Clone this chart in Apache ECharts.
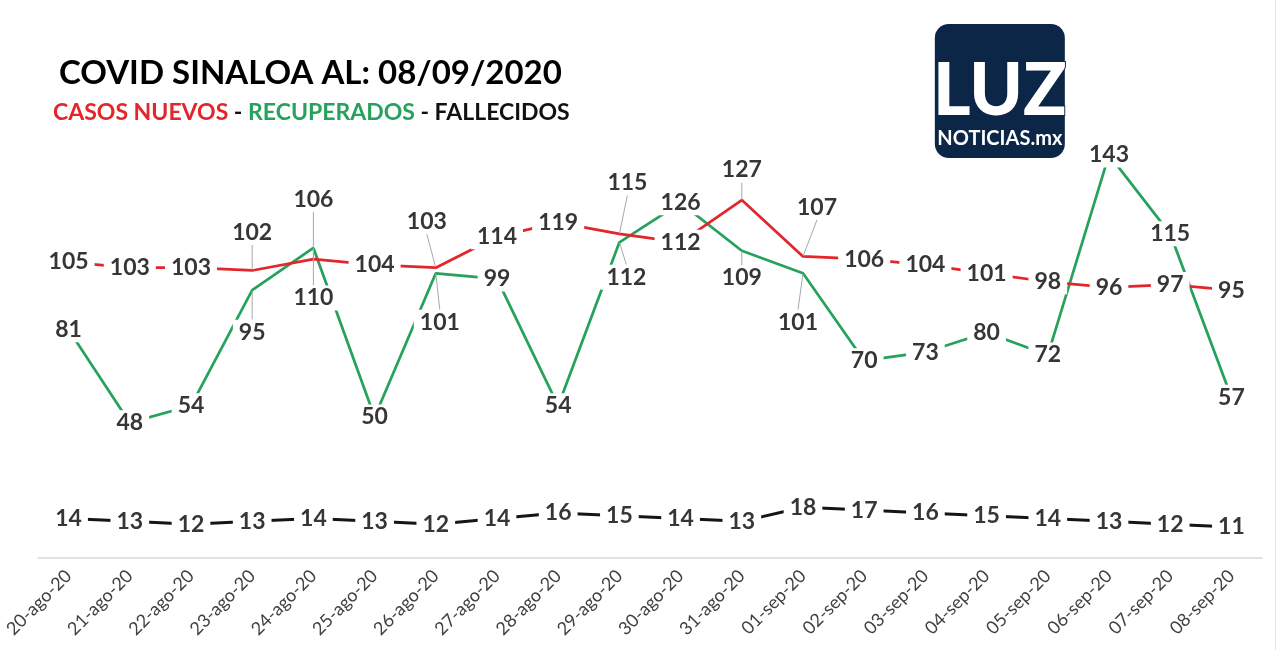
<!DOCTYPE html>
<html>
<head>
<meta charset="utf-8">
<title>COVID Sinaloa</title>
<script src="https://cdn.jsdelivr.net/npm/echarts@6/dist/echarts.min.js"></script>
<style>
    html, body { margin: 0; padding: 0; background: #fff; }
    #chart { width: 1280px; height: 650px; }
</style>
</head>
<body>
<div id="chart"></div>
<script>
const dates = [
    '20-ago-20', '21-ago-20', '22-ago-20', '23-ago-20', '24-ago-20',
    '25-ago-20', '26-ago-20', '27-ago-20', '28-ago-20', '29-ago-20',
    '30-ago-20', '31-ago-20', '01-sep-20', '02-sep-20', '03-sep-20',
    '04-sep-20', '05-sep-20', '06-sep-20', '07-sep-20', '08-sep-20'
];
const casosNuevos = [105, 103, 103, 102, 106, 104, 103, 114, 119, 115, 112, 127, 107, 106, 104, 101, 98, 96, 97, 95];
const recuperados = [81, 48, 54, 95, 110, 50, 101, 99, 54, 112, 126, 109, 101, 70, 73, 80, 72, 143, 115, 57];
const fallecidos = [14, 13, 12, 13, 14, 13, 12, 14, 16, 15, 14, 13, 18, 17, 16, 15, 14, 13, 12, 11];

// where each data label sits relative to its point (px), like the moved labels in the original
const casosShift = [[0, 0], [0, 0], [0, 0], [0, -38], [0, -60], [0, 0], [-9, -46], [0, 0], [0, 0], [8, -51],
    [0, 0], [0, -30], [14, -49], [0, 0], [0, 0], [0, 0], [0, 0], [0, 0], [0, 0], [0, 0]];
const recupShift = [[0, 0], [0, 0], [0, 0], [0, 42], [0, 50], [0, 0], [4, 49], [0, 0], [0, 0], [7, 35],
    [0, 0], [0, 27], [-5, 49], [0, 0], [0, 0], [0, 0], [0, 0], [0, 0], [0, 0], [0, 0]];

const RED = '#e2262b';
const GREEN = '#27a25c';
const BLACK = '#151515';
const LABEL = '#363636';
const FONT = 'Lato, "Open Sans", sans-serif';

const chart = echarts.init(document.getElementById('chart'));

function lineSeries(name, data, color, width) {
    return {
        name: name,
        type: 'line',
        data: data,
        showSymbol: false,
        symbol: 'none',
        lineStyle: { color: color, width: width },
        itemStyle: { color: color },
        z: 2,
        silent: true
    };
}

function labelSeries(name, data, shift) {
    return {
        name: name + '-labels',
        type: 'scatter',
        data: data,
        symbolSize: 1,
        itemStyle: { color: 'rgba(0,0,0,0)', opacity: 1 },
        z: 5,
        silent: true,
        label: {
            show: true,
            position: 'inside',
            color: LABEL,
            opacity: 1,
            fontFamily: FONT,
            fontWeight: 'bold',
            fontSize: 23,
            backgroundColor: '#fff',
            padding: [1, 6]
        },
        labelLine: {
            show: !!shift,
            lineStyle: { color: '#a8a8a8', width: 1, opacity: 1 }
        },
        labelLayout: (params) => {
            if (!shift) return {};
            const s = shift[params.dataIndex] || [0, 0];
            return { dx: s[0], dy: s[1] };
        }
    };
}

chart.setOption({
    animation: false,
    title: [
        {
            text: 'COVID SINALOA AL: 08/09/2020',
            left: 54,
            top: 52,
            textStyle: { fontFamily: FONT, fontSize: 33, fontWeight: 'bold', color: '#000' }
        },
        {
            text: '{r|CASOS NUEVOS} - {g|RECUPERADOS} - FALLECIDOS',
            left: 48,
            top: 96,
            textStyle: {
                fontFamily: FONT, fontSize: 23, fontWeight: 'bold', color: '#111',
                rich: {
                    r: { fontFamily: FONT, fontSize: 23, fontWeight: 'bold', color: RED },
                    g: { fontFamily: FONT, fontSize: 23, fontWeight: 'bold', color: GREEN }
                }
            }
        }
    ],
    grid: { left: 38, right: 18, top: 107, bottom: 92 },
    xAxis: {
        type: 'category',
        data: dates,
        boundaryGap: true,
        axisLine: { lineStyle: { color: '#d9d9d9', width: 1.5 } },
        axisTick: { show: false },
        axisLabel: {
            rotate: 45,
            margin: 15,
            interval: 0,
            color: '#404040',
            fontFamily: FONT,
            fontSize: 18
        }
    },
    yAxis: {
        type: 'value',
        min: 0,
        max: 160,
        show: false,
        splitLine: { show: false }
    },
    series: [
        lineSeries('FALLECIDOS', fallecidos, BLACK, 3),
        lineSeries('RECUPERADOS', recuperados, GREEN, 2.75),
        lineSeries('CASOS NUEVOS', casosNuevos, RED, 2.75),
        labelSeries('FALLECIDOS', fallecidos, null),
        labelSeries('RECUPERADOS', recuperados, recupShift),
        labelSeries('CASOS NUEVOS', casosNuevos, casosShift)
    ],
    graphic: [
        {
            type: 'line',
            silent: true,
            shape: { x1: 1275.5, y1: 0, x2: 1275.5, y2: 650 },
            style: { stroke: '#e3e3e3', lineWidth: 1 }
        },
        {
            type: 'group',
            left: 932,
            top: 24,
            children: [
                {
                    type: 'rect',
                    shape: { x: 0, y: 0, width: 130, height: 134, r: 14 },
                    style: { fill: '#0c2647' }
                },
                {
                    type: 'text',
                    x: 65,
                    y: 68,
                    style: {
                        text: 'LUZ',
                        fill: '#fff',
                        stroke: '#0c2647',
                        lineWidth: 2,
                        font: '900 72px Lato, sans-serif',
                        align: 'center',
                        verticalAlign: 'middle'
                    }
                },
                {
                    type: 'text',
                    x: 65,
                    y: 115,
                    style: {
                        text: 'NOTICIAS.mx',
                        fill: '#fff',
                        font: 'bold 20px Lato, sans-serif',
                        align: 'center',
                        verticalAlign: 'middle'
                    }
                }
            ]
        }
    ]
});

window.addEventListener('resize', () => chart.resize());
</script>
</body>
</html>
